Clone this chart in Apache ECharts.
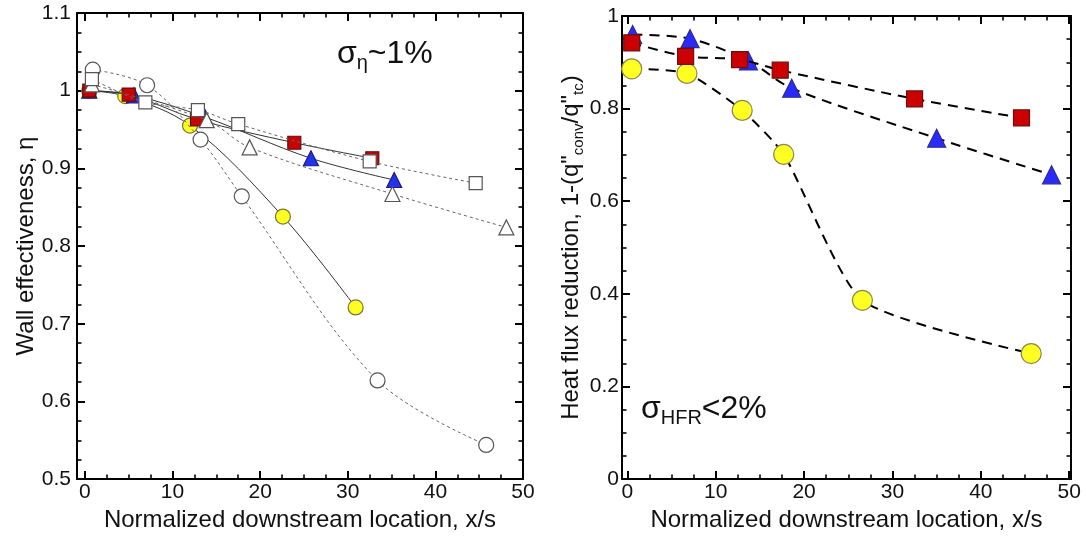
<!DOCTYPE html>
<html>
<head>
<meta charset="utf-8">
<script src="https://cdn.jsdelivr.net/npm/echarts@6/dist/echarts.min.js"></script>
<style>html,body{margin:0;padding:0;background:#fff}#c{width:1086px;height:537px}</style>
</head>
<body>
<div id="c"></div>
<script>
// ---- Left plot: wall effectiveness (eta) ----
const etaRedSq   = [[0.5,1.0],[5.0,0.995],[12.8,0.963],[23.9,0.933],[32.8,0.913]];
const etaBlueTri = [[0.5,1.0],[5.6,0.994],[13.7,0.966],[25.8,0.913],[35.3,0.885]];
const etaYellow  = [[0.5,1.0],[4.6,0.993],[12.0,0.955],[22.6,0.838],[30.9,0.721]];
const etaOpenSq  = [[0.8,1.015],[6.9,0.985],[12.9,0.975],[17.5,0.957],[32.5,0.909],[44.6,0.881]];
const etaOpenTri = [[0.8,1.008],[13.9,0.962],[18.8,0.927],[35.1,0.867],[48.1,0.824]];
const etaOpenCir = [[0.9,1.027],[7.1,1.007],[13.2,0.937],[17.9,0.864],[33.4,0.627],[45.8,0.544]];

// ---- Right plot: heat flux reduction ----
const hfrRedSq   = [[0.5,0.942],[6.6,0.913],[12.7,0.906],[17.3,0.883],[32.5,0.821],[44.6,0.780]];
const hfrBlueTri = [[0.6,0.960],[7.1,0.951],[13.7,0.903],[18.6,0.844],[35.0,0.736],[48.0,0.657]];
const hfrYellow  = [[0.5,0.886],[6.75,0.876],[13.0,0.796],[17.7,0.701],[26.6,0.386],[45.7,0.271]];

// ---- Tick labels ----
const xTicks     = [0,10,20,30,40,50];
const etaTicks   = [0.5,0.6,0.7,0.8,0.9,1.0,1.1];
const hfrTicks   = [0,0.2,0.4,0.6,0.8,1.0];

function minors(lo, hi, step, majors){
  const out=[]; const n=Math.round((hi-lo)/step);
  for(let i=0;i<=n;i++){const v=+(lo+i*step).toFixed(4); if(!majors.some(m=>Math.abs(m-v)<1e-6)) out.push(v);}
  return out;
}
const FONT = '"Liberation Sans", Arial, sans-serif';

function axisSet(kind, grid, min, max, majors, minorVals, name, nameGap, labelMargin){
  const posA = kind==='x' ? ['bottom','top'] : ['left','right'];
  const axes=[];
  posA.forEach((pos,pi)=>{
    axes.push({
      type:'value', gridIndex:grid, position:pos, min:min, max:max,
      axisLine:{show:true, onZero:false, lineStyle:{color:'#000', width:2}},
      axisTick:{show:true, inside:true, length:8, customValues:majors, lineStyle:{color:'#000', width:2}},
      axisLabel:{show:pi===0, customValues:majors, color:'#111', fontSize:21, fontFamily:FONT, margin:labelMargin},
      splitLine:{show:false},
      name: pi===0 ? name : '', nameLocation:'middle', nameGap:nameGap,
      nameRotate: kind==='y' ? 90 : 0,
      nameTextStyle:{color:'#111', fontSize:24, fontFamily:FONT,
        rich:{
          n:{fontSize:24, fontFamily:FONT, color:'#111', lineHeight:30},
          s:{fontSize:15, fontFamily:FONT, color:'#111', lineHeight:15, verticalAlign:'bottom'}
        }}
    });
    axes.push({
      type:'value', gridIndex:grid, position:pos, min:min, max:max,
      axisLine:{show:false, onZero:false},
      axisTick:{show:true, inside:true, length:4.5, customValues:minorVals, lineStyle:{color:'#000', width:1.6}},
      axisLabel:{show:false},
      splitLine:{show:false}
    });
  });
  return axes;
}

const xMin = minors(0,50,2.5,xTicks);
const etaMin = minors(0.5,1.1,0.025,etaTicks);
const hfrMin = minors(0,1,0.05,hfrTicks);

const xAxes = [].concat(
  axisSet('x',0,-0.9,50,xTicks,xMin,'Normalized downstream location, x/s',28,3),
  axisSet('x',1,-0.6,50.2,xTicks,xMin,'Normalized downstream location, x/s',26,3)
);
const yAxes = [].concat(
  axisSet('y',0,0.5,1.1,etaTicks,etaMin,'{n|Wall effectiveness, η}',25,6),
  axisSet('y',1,0,1,hfrTicks,hfrMin,'{n|Heat flux reduction, 1-(q"}{s|conv}{n|/q"}{s|tc}{n|)}',16,3)
);

function lineSeries(data, xi, yi, sym, size, fill, border, lineType, lineColor, lineWidth, z, sm){
  return {
    type:'line', data:data, xAxisIndex:xi, yAxisIndex:yi,
    smooth:sm, symbol:sym, symbolSize:size,
    itemStyle:{color:fill, borderColor:border, borderWidth:1.2},
    lineStyle:{type:lineType, color:lineColor, width:lineWidth},
    emphasis:{disabled:true}, animation:false, z:z
  };
}

const dotted=[3,3];
const dashed=[10,7];
const series=[
  lineSeries(etaYellow,0,0,'circle',15,'#ffff22','#77773a','solid','#333',1,2,0.35),
  lineSeries(etaBlueTri,0,0,'triangle',15,'#2233ee','#1a1a80','solid','#333',1,3,0.35),
  lineSeries(etaRedSq,0,0,'rect',13,'#cc0000','#5a1010','solid','#333',1,4,0.35),
  lineSeries(etaOpenCir,0,0,'circle',15,'#ffffff','#555',dotted,'#666',1,5,0.35),
  lineSeries(etaOpenTri,0,0,'triangle',15,'#ffffff','#555',dotted,'#666',1,6,0.35),
  lineSeries(etaOpenSq,0,0,'rect',13,'#ffffff','#555',dotted,'#666',1,7,0.35),
  lineSeries(hfrYellow,4,4,'circle',20,'#ffff22','#8a8a50',dashed,'#000',2,2,0.2),
  lineSeries(hfrBlueTri,4,4,'triangle',18,'#2a2aff','#2a2a90',dashed,'#000',2,3,0.3),
  lineSeries(hfrRedSq,4,4,'rect',16,'#cc0000','#6a1010',dashed,'#000',2,4,0.3)
];

const richAnn = {
  a:{fontSize:32, fontFamily:FONT, fill:'#111', lineHeight:38},
  b:{fontSize:20, fontFamily:FONT, fill:'#111', lineHeight:20, verticalAlign:'bottom'}
};
const option={
  backgroundColor:'#fff',
  animation:false,
  grid:[
    {left:77, top:13, width:446, height:470},
    {left:622, top:16, width:449, height:469}
  ],
  xAxis:xAxes,
  yAxis:yAxes,
  series:series,
  graphic:[
    {type:'text', left:337, top:38, z:10, style:{text:'{a|σ}{b|η}{a|~1%}', fontFamily:FONT, rich:richAnn}},
    {type:'text', left:641, top:393, z:10, style:{text:'{a|σ}{b|HFR}{a|<2%}', fontFamily:FONT, rich:richAnn}}
  ]
};
const chart=echarts.init(document.getElementById('c'),null,{renderer:'canvas'});
chart.setOption(option);
</script>
</body>
</html>
